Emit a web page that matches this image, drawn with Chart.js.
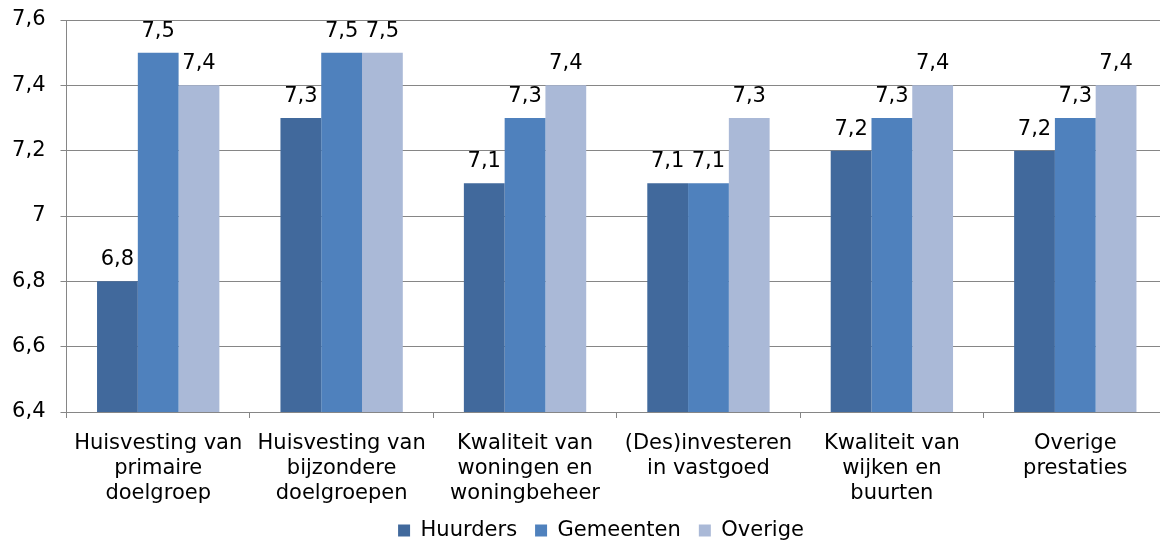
<!DOCTYPE html>
<html>
<head>
<meta charset="utf-8">
<script src="https://cdn.jsdelivr.net/npm/chart.js@4/dist/chart.umd.min.js"></script>
<style>
  html, body { margin: 0; padding: 0; background: #fff; overflow: hidden; }
  #wrap { position: relative; width: 1202px; height: 551px; }
</style>
</head>
<body>
<div id="wrap"><canvas id="c"></canvas></div>
<script>
const categories = [
  ["Huisvesting van", "primaire", "doelgroep"],
  ["Huisvesting van", "bijzondere", "doelgroepen"],
  ["Kwaliteit van", "woningen en", "woningbeheer"],
  ["(Des)investeren", "in vastgoed"],
  ["Kwaliteit van", "wijken en", "buurten"],
  ["Overige", "prestaties"]
];
const seriesNames = ["Huurders", "Gemeenten", "Overige"];
const huurders  = [6.8, 7.3, 7.1, 7.1, 7.2, 7.2];
const gemeenten = [7.5, 7.5, 7.3, 7.1, 7.3, 7.3];
const overige   = [7.4, 7.5, 7.4, 7.3, 7.4, 7.4];
const yMin = 6.4, yMax = 7.6, yStep = 0.2;

const FONT = '"DejaVu Sans", Verdana, sans-serif';
const fmt = v => (Math.round(v * 10) / 10).toString().replace('.', ',');

const dataLabels = {
  id: 'dataLabels',
  afterDatasetsDraw(chart) {
    const ctx = chart.ctx;
    ctx.save();
    ctx.font = '21px ' + FONT;
    ctx.fillStyle = '#000';
    ctx.textAlign = 'center';
    ctx.textBaseline = 'alphabetic';
    chart.data.datasets.forEach((ds, i) => {
      chart.getDatasetMeta(i).data.forEach((bar, j) => {
        ctx.fillText(fmt(ds.data[j]), bar.x, bar.y - 16);
      });
    });
    ctx.restore();
  }
};

new Chart(document.getElementById('c'), {
  type: 'bar',
  data: {
    labels: categories,
    datasets: [
      { label: seriesNames[0], data: huurders,  backgroundColor: '#41699c' },
      { label: seriesNames[1], data: gemeenten, backgroundColor: '#4f81bd' },
      { label: seriesNames[2], data: overige,   backgroundColor: '#aab9d7' }
    ]
  },
  options: {
    responsive: true,
    maintainAspectRatio: false,
    animation: false,
    layout: { padding: { top: 20, left: 0, right: 0, bottom: 0 } },
    datasets: { bar: { categoryPercentage: 0.667, barPercentage: 1.0, borderWidth: 0 } },
    plugins: {
      tooltip: { enabled: false },
      legend: {
        position: 'bottom',
        labels: {
          font: { family: FONT, size: 21 },
          color: '#000',
          boxWidth: 12,
          boxHeight: 12,
          padding: 18
        }
      }
    },
    scales: {
      x: {
        ticks: {
          font: { family: FONT, size: 21, lineHeight: 1.2 },
          color: '#000',
          maxRotation: 0,
          autoSkip: false,
          padding: 13
        },
        grid: { display: true, drawOnChartArea: false, drawTicks: true, tickLength: 6, color: '#868686', offset: true },
        border: { color: '#868686', width: 1 },
        afterFit: s => {
          s.height = 90;
          s.paddingLeft = 0; s.paddingRight = 0;
          s._computeLabelArea = () => undefined;
        }
      },
      y: {
        min: yMin, max: yMax,
        ticks: {
          stepSize: yStep,
          callback: v => fmt(v),
          font: { family: FONT, size: 21 },
          color: '#000',
          padding: 15
        },
        grid: { color: '#868686', lineWidth: 1, tickLength: 6 },
        border: { color: '#868686', width: 1 },
        afterFit: s => { s.width = 66.5; s.paddingTop = 0; s.paddingBottom = 0; }
      },
      yR: {
        position: 'right',
        display: true,
        min: 0, max: 1,
        ticks: { display: false },
        grid: { drawOnChartArea: false, drawTicks: false },
        border: { display: false },
        afterFit: s => { s.width = 35; s.paddingTop = 0; s.paddingBottom = 0; }
      }
    }
  },
  plugins: [dataLabels]
});
</script>
</body>
</html>
